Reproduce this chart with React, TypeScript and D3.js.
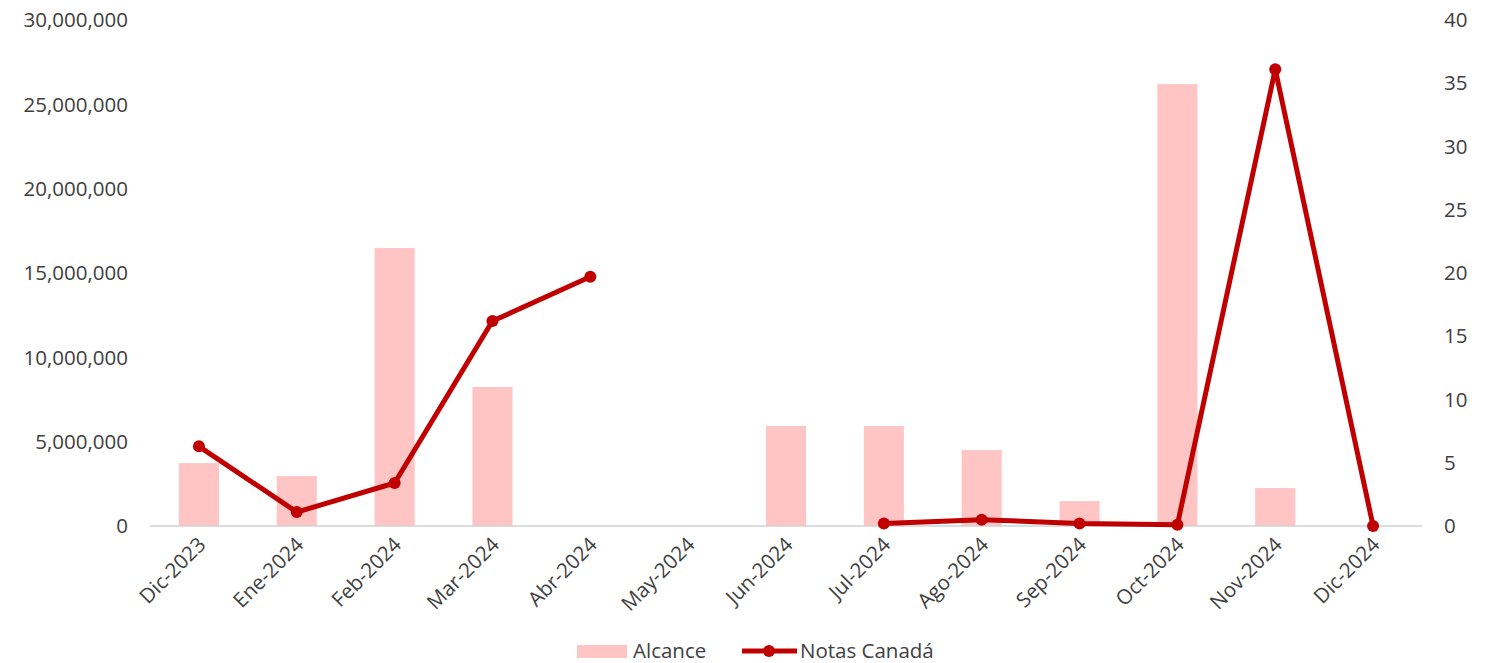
import React from "react";
import * as d3 from "d3";

const categories = ["Dic-2023","Ene-2024","Feb-2024","Mar-2024","Abr-2024","May-2024","Jun-2024","Jul-2024","Ago-2024","Sep-2024","Oct-2024","Nov-2024","Dic-2024"];
const alcance: (number | null)[] = [3730000, 2960000, 16480000, 8240000, null, null, 5930000, 5930000, 4500000, 1480000, 26200000, 2250000, null];
const notas: (number | null)[] = [6.3, 1.1, 3.4, 16.2, 19.7, null, null, 0.2, 0.5, 0.2, 0.1, 36.1, 0];
const leftTicks = [0, 5000000, 10000000, 15000000, 20000000, 25000000, 30000000];
const rightTicks = [0, 5, 10, 15, 20, 25, 30, 35, 40];

const W = 1489, H = 663;
const BAR = "#ffc5c5";
const LINE = "#c00000";
const FONT = "'Open Sans', 'Noto Sans', sans-serif";
const FS = 20.5;

export default function App() {
  const x = d3.scaleBand<string>().domain(categories).range([150, 1422]).paddingInner(0.59).paddingOuter(0.295);
  const yL = d3.scaleLinear().domain([0, 30000000]).range([526, 20]);
  const yR = d3.scaleLinear().domain([0, 40]).range([526, 20]);
  const cx = (c: string) => (x(c) as number) + x.bandwidth() / 2;
  const fmt = d3.format(",");
  const line = d3.line<number | null>()
    .defined((d) => d != null)
    .x((_, i) => cx(categories[i]))
    .y((d) => yR(d as number));

  return (
    <svg width={W} height={H} style={{ position: "absolute", left: 0, top: 0, background: "#fff" }}>
      {alcance.map((v, i) =>
        v == null ? null : (
          <rect key={i} x={x(categories[i])} y={yL(v)} width={x.bandwidth()} height={yL(0) - yL(v)} fill={BAR} />
        )
      )}
      <line x1={150} x2={1422} y1={yL(0)} y2={yL(0)} stroke="#d0d0d0" strokeWidth={1.5} />
      <path d={line(notas) || ""} fill="none" stroke={LINE} strokeWidth={5} strokeLinejoin="round" />
      {notas.map((v, i) =>
        v == null ? null : <circle key={i} cx={cx(categories[i])} cy={yR(v)} r={6} fill={LINE} />
      )}
      {leftTicks.map((t) => (
        <text key={t} x={128} y={yL(t)} dy="0.35em" textAnchor="end" fontFamily={FONT} fontSize={FS} fill="#404040">{fmt(t)}</text>
      ))}
      {rightTicks.map((t) => (
        <text key={t} x={1444} y={yR(t)} dy="0.35em" textAnchor="start" fontFamily={FONT} fontSize={FS} fill="#404040">{t}</text>
      ))}
      {categories.map((c) => (
        <text key={c} transform={`translate(${cx(c) + 8},${546}) rotate(-45)`} textAnchor="end" fontFamily={FONT} fontSize={FS} fill="#404040">{c}</text>
      ))}
      <rect x={577} y={645} width={50} height={13} fill={BAR} />
      <text x={633} y={651} dy="0.35em" fontFamily={FONT} fontSize={FS} fill="#404040">Alcance</text>
      <line x1={742} x2={797} y1={651} y2={651} stroke={LINE} strokeWidth={5} />
      <circle cx={769} cy={651} r={6} fill={LINE} />
      <text x={800} y={651} dy="0.35em" fontFamily={FONT} fontSize={FS} fill="#404040">Notas Canadá</text>
    </svg>
  );
}
